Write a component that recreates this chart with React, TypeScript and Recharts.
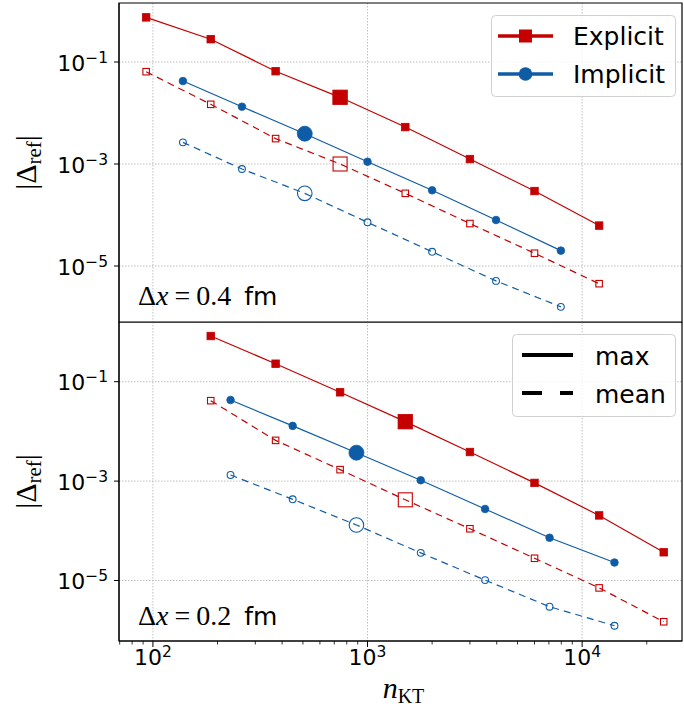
import React from "react";
import { LineChart, Line, XAxis, YAxis, CartesianGrid, ReferenceArea, Legend } from "recharts";

const RED = "#c40000";
const BLUE = "#0f5ca6";

// panel 1: dx = 0.4 fm
const nExplicit04 = [93, 186, 373, 745, 1500, 3000, 6000, 12000];
const explicitMax04 = [0.75, 0.28, 0.066, 0.0203, 0.0053, 0.00125, 2.95e-4, 6.2e-5];
const explicitMean04 = [0.0646, 0.0148, 0.00315, 1.0e-3, 2.66e-4, 6.8e-5, 1.78e-5, 4.5e-6];
const nImplicit04 = [138, 260, 510, 1000, 2000, 3970, 7960];
const implicitMax04 = [0.0423, 0.0133, 0.00393, 0.00111, 3.05e-4, 7.98e-5, 2.0e-5];
const implicitMean04 = [0.00266, 7.98e-4, 2.66e-4, 7.2e-5, 1.9e-5, 5.1e-6, 1.58e-6];

// panel 2: dx = 0.2 fm
const nExplicit02 = [186, 373, 745, 1500, 3000, 6000, 12000, 24000];
const explicitMax02 = [0.83, 0.23, 0.0612, 0.0157, 0.00385, 9.2e-4, 2.04e-4, 3.7e-5];
const explicitMean02 = [0.0415, 0.0066, 0.0017, 4.2e-4, 1.1e-4, 2.8e-5, 7.1e-6, 1.48e-6];
const nImplicit02 = [230, 448, 888, 1770, 3530, 7050, 14150];
const implicitMax02 = [0.0428, 0.0129, 0.00373, 1.04e-3, 2.75e-4, 7.25e-5, 2.3e-5];
const implicitMean02 = [1.33e-3, 4.3e-4, 1.31e-4, 3.6e-5, 1.02e-5, 2.97e-6, 1.23e-6];

const xMajor = [100, 1000, 10000];
const xMinor = [70, 80, 90, 200, 300, 400, 500, 600, 700, 800, 900, 2000, 3000, 4000, 5000, 6000, 7000, 8000, 9000, 20000];
const yMajor = [1e-1, 1e-3, 1e-5];

const X_DOMAIN: [number, number] = [69.5, 29200];
const Y_DOMAIN_04: [number, number] = [Math.pow(10, -6.098), Math.pow(10, 0.157)];
const Y_DOMAIN_02: [number, number] = [Math.pow(10, -6.217), Math.pow(10, 0.201)];

const toPoints = (xs: number[], ys: number[]) => xs.map((x, i) => ({ x, y: ys[i] }));

const expo = (v: number) => {
  const e = Math.round(Math.log10(v));
  return e < 0 ? `\u2212${-e}` : `${e}`;
};

type Series = {
  key: string;
  data: { x: number; y: number }[];
  color: string;
  shape: "square" | "circle";
  filled: boolean;
  dashed: boolean;
  bigIndex: number;
};

const makeSeries = (
  nExp: number[], expMax: number[], expMean: number[],
  nImp: number[], impMax: number[], impMean: number[]
): Series[] => [
  { key: "expMax", data: toPoints(nExp, expMax), color: RED, shape: "square", filled: true, dashed: false, bigIndex: 3 },
  { key: "expMean", data: toPoints(nExp, expMean), color: RED, shape: "square", filled: false, dashed: true, bigIndex: 3 },
  { key: "impMax", data: toPoints(nImp, impMax), color: BLUE, shape: "circle", filled: true, dashed: false, bigIndex: 2 },
  { key: "impMean", data: toPoints(nImp, impMean), color: BLUE, shape: "circle", filled: false, dashed: true, bigIndex: 2 },
];

const series04 = makeSeries(nExplicit04, explicitMax04, explicitMean04, nImplicit04, implicitMax04, implicitMean04);
const series02 = makeSeries(nExplicit02, explicitMax02, explicitMean02, nImplicit02, implicitMax02, implicitMean02);

const makeDot = (s: Series) => (props: any) => {
  const { cx, cy, index } = props;
  const big = index === s.bigIndex;
  const k = `${s.key}-${index}`;
  if (cx == null || cy == null) return <g key={k} />;
  if (s.shape === "square") {
    const size = s.filled ? (big ? 14.5 : 7.5) : big ? 14 : 6.5;
    return (
      <rect key={k} x={cx - size / 2} y={cy - size / 2} width={size} height={size}
        fill={s.filled ? s.color : "none"} stroke={s.color} strokeWidth={s.filled ? 0.8 : 1.1} />
    );
  }
  const r = s.filled ? (big ? 7.5 : 3.8) : big ? 7.3 : 3.4;
  return (
    <circle key={k} cx={cx} cy={cy} r={r}
      fill={s.filled ? s.color : "none"} stroke={s.color} strokeWidth={s.filled ? 0.8 : 1.1} />
  );
};

const YTick = (props: any) => {
  const { x, y, payload } = props;
  return (
    <g>
      <line x1={x} x2={x - 5} y1={y} y2={y} stroke="#000" strokeWidth={1} />
      <text x={x - 11} y={y + 8.5} textAnchor="end" fontSize={22} fontFamily="DejaVu Sans" fill="#000">
        <tspan>10</tspan>
        <tspan fontSize={15.5} dy={-8}>{expo(payload.value)}</tspan>
      </text>
    </g>
  );
};

const XTick = (props: any) => {
  const { x, y, payload } = props;
  const major = xMajor.includes(payload.value);
  return (
    <g>
      <line x1={x} x2={x} y1={y} y2={y + (major ? 6 : 3.5)} stroke="#000" strokeWidth={major ? 1 : 0.8} />
      {major && (
        <text x={x} y={y + 23.5} textAnchor="middle" fontSize={22} fontFamily="DejaVu Sans" fill="#000">
          <tspan>10</tspan>
          <tspan fontSize={15.5} dy={-8}>{expo(payload.value)}</tspan>
        </text>
      )}
    </g>
  );
};

const YLabel = (props: any) => {
  const vb = props.viewBox || { x: 0, y: 0, width: 0, height: 0 };
  const cy = vb.y + vb.height / 2;
  const bx = 36;
  return (
    <text transform={`rotate(-90 ${bx} ${cy})`} x={bx} y={cy} textAnchor="middle"
      fontFamily="Liberation Serif" fontSize={30} fill="#000">
      <tspan>|Δ</tspan>
      <tspan fontSize={21} dy={5}>ref</tspan>
      <tspan dy={-5}>|</tspan>
    </text>
  );
};

const XLabel = (props: any) => {
  const vb = props.viewBox || { x: 0, y: 0, width: 0, height: 0 };
  return (
    <text x={vb.x + vb.width / 2 + 3} y={vb.y + 57} textAnchor="middle"
      fontFamily="Liberation Serif" fontSize={30} fill="#000">
      <tspan fontStyle="italic">n</tspan>
      <tspan fontSize={20} dy={5}>KT</tspan>
    </text>
  );
};

const MethodLegend = () => (
  <svg width={186} height={83}>
    <rect x={0.5} y={0.5} width={184} height={81} rx={4} fill="#fff" fillOpacity={0.8} stroke="#d0d0d0" />
    <line x1={7} x2={62} y1={21} y2={21} stroke={RED} strokeWidth={3.5} />
    <rect x={28} y={14.5} width={13} height={13} fill={RED} />
    <text x={82} y={30} fontSize={25} fontFamily="DejaVu Sans" fill="#000">Explicit</text>
    <line x1={7} x2={62} y1={59} y2={59} stroke={BLUE} strokeWidth={3.5} />
    <circle cx={34.5} cy={59} r={6.8} fill={BLUE} />
    <text x={82} y={68} fontSize={25} fontFamily="DejaVu Sans" fill="#000">Implicit</text>
  </svg>
);

const StyleLegend = () => (
  <svg width={165} height={84}>
    <rect x={0.5} y={0.5} width={163} height={82} rx={4} fill="#fff" fillOpacity={0.8} stroke="#d0d0d0" />
    <line x1={10} x2={61} y1={21} y2={21} stroke="#000" strokeWidth={4} />
    <text x={83} y={31} fontSize={25} fontFamily="DejaVu Sans" fill="#000">max</text>
    <line x1={10} x2={61} y1={59} y2={59} stroke="#000" strokeWidth={4} strokeDasharray="20 18" />
    <text x={83} y={69} fontSize={25} fontFamily="DejaVu Sans" fill="#000">mean</text>
  </svg>
);

const Panel = ({ series, yDomain, height, margin, showX, legend, legendPos }: any) => (
  <LineChart width={684} height={height} margin={margin}>
    <CartesianGrid stroke="#b0b0b0" strokeWidth={0.8} strokeDasharray="1.5 1.5"
      horizontalValues={yMajor} verticalValues={xMajor} />
    <XAxis type="number" dataKey="x" scale="log" domain={X_DOMAIN} allowDataOverflow
      hide={!showX} ticks={[...xMajor, ...xMinor]} interval={0} tick={<XTick />}
      tickLine={false} tickSize={0} tickMargin={0} axisLine={{ stroke: "#000" }}
      height={showX ? 77 : 0} label={showX ? <XLabel /> : undefined} />
    <YAxis type="number" scale="log" domain={yDomain} allowDataOverflow width={119}
      ticks={yMajor} interval={0} tick={<YTick />} tickLine={false} tickSize={0} tickMargin={0}
      axisLine={{ stroke: "#000" }} label={<YLabel />} />
    <ReferenceArea x1={X_DOMAIN[0]} x2={X_DOMAIN[1]} y1={yDomain[0]} y2={yDomain[1]}
      fill="none" fillOpacity={0} stroke="#000" strokeWidth={1.2} ifOverflow="visible" />
    {series.map((s: Series) => (
      <Line key={s.key} data={s.data} dataKey="y" name={s.key} type="linear"
        stroke={s.color} strokeWidth={1.2} strokeDasharray={s.dashed ? "7 5" : undefined}
        dot={makeDot(s)} activeDot={false} isAnimationActive={false} legendType="none" />
    ))}
    <Legend layout="vertical" align="center" verticalAlign="middle"
      wrapperStyle={{ left: legendPos.left, top: legendPos.top, width: "auto" }}
      content={() => legend} />
  </LineChart>
);

const NoteText = ({ y, value }: { y: number; value: string }) => (
  <text x={138} y={y} fontSize={28} fill="#000">
    <tspan fontFamily="Liberation Serif">Δ</tspan>
    <tspan fontFamily="Liberation Serif" fontStyle="italic">x</tspan>
    <tspan fontFamily="Liberation Serif" dx={6}>=</tspan>
    <tspan fontFamily="Liberation Serif" dx={6}>{value}</tspan>
    <tspan fontFamily="DejaVu Sans" fontSize={25} dx={13}>fm</tspan>
  </text>
);

export default function App() {
  return (
    <div style={{ position: "absolute", left: 0, top: 0, width: 684, height: 718, background: "#fff", fontFamily: "DejaVu Sans" }}>
      <div style={{ position: "absolute", left: 0, top: 0 }}>
        <Panel series={series04} yDomain={Y_DOMAIN_04} height={323}
          margin={{ top: 3, right: 2, bottom: 1, left: 0 }} showX={false}
          legend={<MethodLegend />} legendPos={{ left: 491, top: 15 }} />
      </div>
      <div style={{ position: "absolute", left: 0, top: 322 }}>
        <Panel series={series02} yDomain={Y_DOMAIN_02} height={396}
          margin={{ top: 0, right: 2, bottom: 0, left: 0 }} showX={true}
          legend={<StyleLegend />} legendPos={{ left: 512, top: 12 }} />
      </div>
      <svg width={684} height={718} style={{ position: "absolute", left: 0, top: 0, pointerEvents: "none" }}>
        <NoteText y={305} value="0.4" />
        <NoteText y={625} value="0.2" />
      </svg>
    </div>
  );
}
